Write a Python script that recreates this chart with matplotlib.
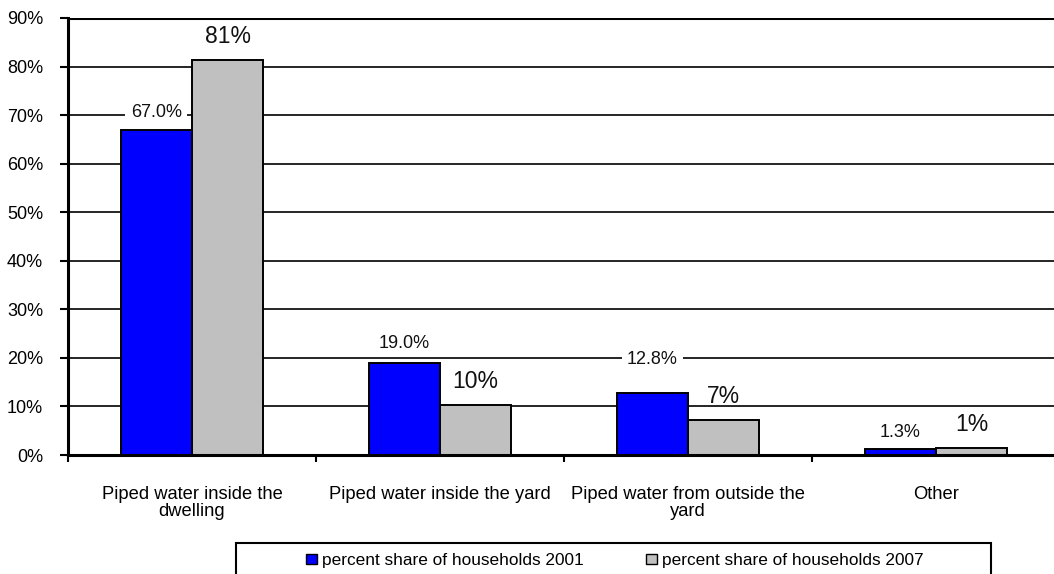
import matplotlib
matplotlib.use("Agg")
import matplotlib.pyplot as plt
import numpy as np
from matplotlib.patches import Patch, Rectangle

plt.rcParams['font.family'] = ['Liberation Sans', 'DejaVu Sans']

categories = ["Piped water inside the\ndwelling",
              "Piped water inside the yard",
              "Piped water from outside the\nyard",
              "Other"]
share_2001 = [67.0, 19.0, 12.8, 1.3]
share_2007 = [81.3, 10.3, 7.2, 1.4]
series_names = ["percent share of households 2001",
                "percent share of households 2007"]
y_ticks = [0, 10, 20, 30, 40, 50, 60, 70, 80, 90]

# label lift above the bar top, in pixels
lift_2001 = [13, 15, 29, 12]
lift_2007 = [17, 17, 17, 17]

W, H = 1054, 574
fig = plt.figure(figsize=(W / 100, H / 100), dpi=100)
ax = fig.add_axes([68 / W, (H - 455) / H, (1060 - 68) / W, (455 - 18) / H])

x = np.arange(len(categories))
bw = 0.287
blue = "#0000FF"
grey = "#C0C0C0"

ax.set_axisbelow(True)
for v in y_ticks[1:]:
    ax.axhline(v, color="black", lw=1.2 if v < 90 else 2.2, zorder=0)

ax.bar(x - bw / 2, share_2001, bw, color=blue, edgecolor="black", lw=1.4, zorder=2)
ax.bar(x + bw / 2, share_2007, bw, color=grey, edgecolor="black", lw=1.4, zorder=2)

px2pt = 72 / 100
for xi, v, lf in zip(x, share_2001, lift_2001):
    ax.annotate(f"{v:.1f}%", (xi - bw / 2, v), xytext=(0, lf * px2pt),
                textcoords="offset points", ha="center", va="baseline",
                fontsize=13, color="#111111", zorder=3,
                bbox=dict(boxstyle="square,pad=0.3", fc="white", ec="none"))
for xi, v, lf in zip(x, share_2007, lift_2007):
    ax.annotate(f"{v:.0f}%", (xi + bw / 2, v), xytext=(0, lf * px2pt),
                textcoords="offset points", ha="center", va="baseline",
                fontsize=16.5, color="#111111", zorder=3)

ax.set_xlim(-0.5, len(categories) - 0.5)
ax.set_ylim(0, 90)
ax.set_yticks(y_ticks)
ax.set_yticklabels([f"{t}%" for t in y_ticks], fontsize=13)

# category boundaries carry the tick marks; names sit centred in each slot
ax.set_xticks(np.arange(len(categories) + 1) - 0.5)
ax.set_xticklabels([])
ax.set_xticks(x, minor=True)
ax.set_xticklabels(categories, minor=True, fontsize=13.2, linespacing=1.0)
ax.tick_params(axis="x", which="minor", length=0, pad=22)
ax.tick_params(axis="x", which="major", length=5, width=1.5, direction="out")
ax.tick_params(axis="y", length=6, width=1.5, direction="out", pad=12)

for s in ["left", "bottom"]:
    ax.spines[s].set_linewidth(2.2)
ax.spines["top"].set_visible(False)
ax.spines["right"].set_visible(False)

# legend box (runs past the lower edge of the canvas)
fig.patches.append(Rectangle((236 / W, -0.05), (991 - 236) / W, 0.05 + (H - 543) / H,
                             transform=fig.transFigure, fill=False,
                             edgecolor="black", lw=1.5))
handles = [Patch(facecolor=blue, edgecolor="black", lw=1.0),
           Patch(facecolor=grey, edgecolor="black", lw=1.0)]
leg = fig.legend(handles, series_names, loc="center",
                 bbox_to_anchor=(615 / W, 1 - 561 / H),
                 ncol=2, fontsize=12.45, frameon=False,
                 handlelength=0.64, handleheight=0.52, handletextpad=0.29,
                 columnspacing=3.6, borderpad=0, borderaxespad=0)

fig.savefig("out.png", dpi=100)
